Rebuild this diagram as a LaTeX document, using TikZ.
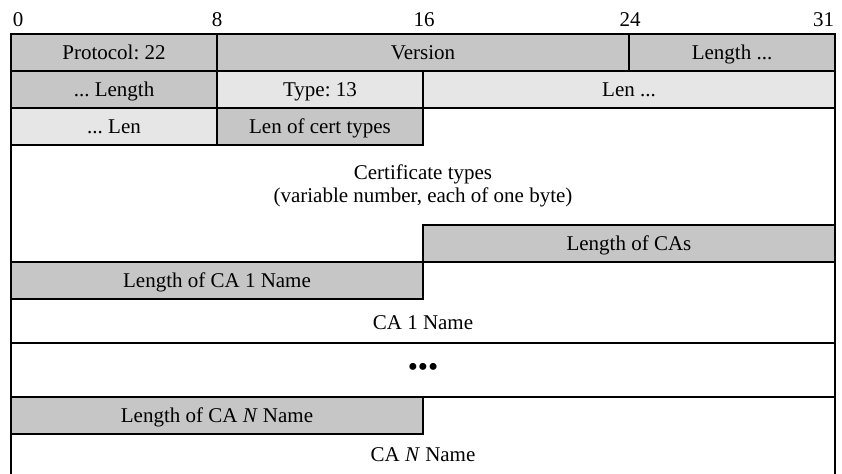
\documentclass[tikz,border=0pt]{standalone}
\usepackage{fontspec}
\setmainfont{Liberation Serif}
\usepackage{tikz}
\usetikzlibrary{positioning}
\definecolor{fielddark}{HTML}{C6C6C6}
\definecolor{fieldlight}{HTML}{E6E6E6}
\frenchspacing

\begin{document}
\begin{tikzpicture}[x=0.5pt, y=-0.5pt, node distance=0pt, line width=0.9pt, every node/.style={font=\fontsize{10.5}{11.5}\selectfont}, field/.style={draw, inner sep=0pt, outer sep=0pt, minimum height=18.5pt, text height=9.2pt, text depth=2.2pt}, dark/.style={field, fill=fielddark}, light/.style={field, fill=fieldlight}, onebyte/.style={minimum width=103pt}, twobytes/.style={minimum width=206pt}, bitno/.style={inner sep=0pt, anchor=base}]
\useasboundingbox (0,0) rectangle (842,474);
% bit numbers
\node[bitno, anchor=base west] (b0) at (12,26.5) {0};
\node[bitno] (b8) at (217,26.5) {8};
\node[bitno] (b16) at (424,26.5) {16};
\node[bitno] (b24) at (630,26.5) {24};
\node[bitno, anchor=base east] (b31) at (835,26.5) {31};
% record header
\node[dark, onebyte, anchor=north west] (proto) at (11,34) {Protocol: 22};
\node[dark, twobytes, right=of proto] (version) {Version};
\node[dark, onebyte, right=of version] (lenhi) {Length ...};
\node[dark, onebyte, below=of proto] (lenlo) {... Length};
% handshake header
\node[light, onebyte, right=of lenlo] (type) {Type: 13};
\node[light, twobytes, right=of type] (hslenhi) {Len ...};
\node[light, onebyte, below=of lenlo] (hslenlo) {... Len};
\node[dark, onebyte, right=of hslenlo] (certlen) {Len of cert types};
\node[align=center] (certtypes) at (423,186) {Certificate types\\(variable number, each of one byte)};
% CA list
\node[dark, twobytes, anchor=north west] (calen) at (423,225) {Length of CAs};
\node[dark, twobytes, anchor=north west] (ca1len) at (11,262) {Length of CA 1 Name};
\node (ca1) at (423,323) {CA 1 Name};
\node (dots) at (423,370) {\fontsize{14.5}{14.5}\selectfont\textbullet\textbullet\textbullet};
\node[dark, twobytes, anchor=north west] (canlen) at (11,397) {Length of CA \textit{N} Name};
\node (can) at (423,455) {CA \textit{N} Name};
% frame
\draw (proto.north west) -- (11,474);
\draw (lenhi.north east) -- (835,474);
\draw (11,343) -- (835,343);
\draw (canlen.north west) -- (835,397);
\end{tikzpicture}
\end{document}
